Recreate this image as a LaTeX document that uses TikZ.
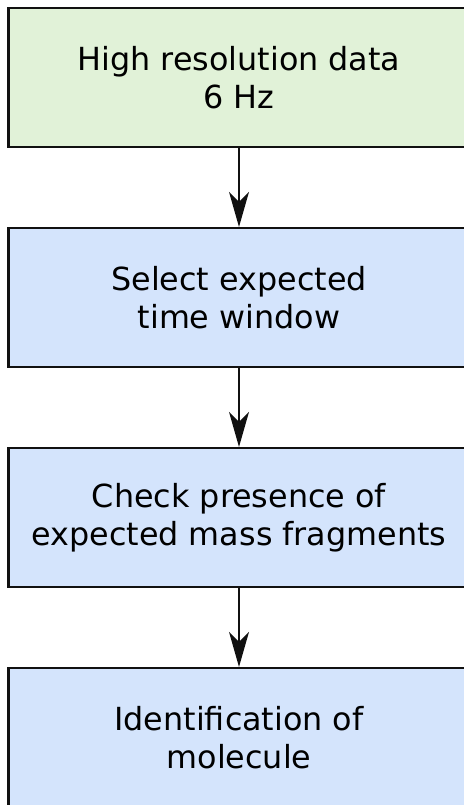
\documentclass[tikz,border=0pt]{standalone}
\usepackage{fontspec}
\setmainfont{DejaVu Sans}
\usetikzlibrary{arrows.meta}
\definecolor{greenfill}{HTML}{E1F2D8}
\definecolor{bluefill}{HTML}{D4E4FC}
\definecolor{edgecol}{HTML}{111111}
\begin{document}
\begin{tikzpicture}[x=1pt,y=1pt,
  stepbox/.style={draw=edgecol, line width=2.2pt, minimum width=461pt,
    minimum height=139pt, inner sep=0pt, align=center, text=black,
    font=\fontsize{31.8}{38}\selectfont},
  flow/.style={draw=edgecol, line width=1.6pt,
    -{Stealth[length=35pt,width=20pt,inset=10pt]}}]
\useasboundingbox (0,0) rectangle (463,-805);
\node[stepbox, fill=greenfill] (a) at (239,-77.5) {High resolution data\\6 Hz};
\node[stepbox, fill=bluefill] (b) at (239,-297.5) {Select expected\\time window};
\node[stepbox, fill=bluefill] (c) at (239,-517.5) {Check presence of\\expected mass fragments};
\node[stepbox, fill=bluefill] (d) at (239,-737.5) {Identification of\\molecule};
\draw[flow] (a) -- (b);
\draw[flow] (b) -- (c);
\draw[flow] (c) -- (d);
\end{tikzpicture}
\end{document}
